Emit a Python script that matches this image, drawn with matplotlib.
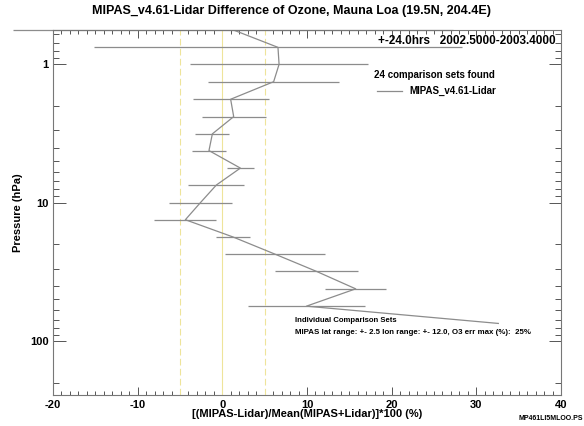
import numpy as np
import matplotlib
matplotlib.use('Agg')
import matplotlib.pyplot as plt
from matplotlib.ticker import LogLocator, FixedLocator, MultipleLocator, NullFormatter

plt.rcParams['font.family'] = ['Liberation Sans', 'DejaVu Sans']
plt.rcParams['font.weight'] = 'bold'
plt.rcParams['axes.unicode_minus'] = False

# MIPAS - Lidar relative difference profile
pressure = [0.563, 0.754, 1.0, 1.335, 1.788, 2.387, 3.18, 4.20, 5.62,
            7.45, 10.0, 13.27, 17.67, 23.5, 31.3, 41.9, 55.9, 74.5]
diff = [1.25, 6.57, 6.7, 6.06, 0.98, 1.34, -1.18, -1.58, 2.13,
        -0.71, -2.6, -4.37, 1.25, 6.2, 11.1, 15.75, 9.93, 32.6]
err = [26.0, 21.7, 10.5, 7.7, 4.5, 3.8, 2.0, 2.0, 1.6,
       3.3, 3.7, 3.65, 1.97, 5.9, 4.9, 3.6, 6.95, 0.0]

fig = plt.figure(figsize=(5.84, 4.26), dpi=100)
ax = fig.add_axes([0.0908, 0.0728, 0.8698, 0.8575])

grey = '#8c8c8c'
yel = '#eee49a'
# reference lines at 0 and +-5 %
ax.axvline(0, color=yel, lw=0.8)
ax.axvline(-5, color=yel, lw=0.8, ls=(0, (6, 3)))
ax.axvline(5, color=yel, lw=0.8, ls=(0, (6, 3)))

ax.errorbar(diff, pressure, xerr=err, fmt='none', ecolor=grey, elinewidth=0.9,
            capsize=0, clip_on=False)
ax.plot(diff, pressure, color=grey, lw=0.9, label='MIPAS_v4.61-Lidar')

ax.set_yscale('log')
ax.set_ylim(245, 0.562)
ax.set_xlim(-20, 40)

ax.xaxis.set_major_locator(MultipleLocator(10))
ax.xaxis.set_minor_locator(MultipleLocator(1))
ax.yaxis.set_major_locator(FixedLocator([1, 10, 100]))
ax.yaxis.set_major_formatter(plt.FuncFormatter(lambda v, p: '%d' % v))
ax.yaxis.set_minor_locator(LogLocator(base=10, subs=np.arange(2, 10)))
ax.yaxis.set_minor_formatter(NullFormatter())

ax.tick_params(which='both', direction='in', top=True, right=True,
               colors='#555555', labelcolor='black', labelsize=8, width=0.7)
ax.tick_params(axis='x', which='major', length=6, pad=3.5)
ax.tick_params(axis='x', which='minor', length=3)
ax.tick_params(axis='y', which='major', length=9, pad=3)
ax.tick_params(axis='y', which='minor', length=4)
for s in ax.spines.values():
    s.set_color('#777777')
    s.set_linewidth(0.8)

ax.set_xlabel('[(MIPAS-Lidar)/Mean(MIPAS+Lidar)]*100 (%)', fontsize=8,
              fontweight='bold', labelpad=-0.5)
ax.set_ylabel('Pressure (hPa)', fontsize=8, fontweight='bold', labelpad=5)

fig.text(0.5, 0.975, 'MIPAS_v4.61-Lidar Difference of Ozone, Mauna Loa (19.5N, 204.4E)',
         ha='center', va='center', fontsize=9, fontweight='bold')
fig.text(556 / 584, 1 - 41 / 426, '+-24.0hrs   2002.5000-2003.4000',
         ha='right', va='center', fontsize=8.5, fontweight='bold')
fig.text(374 / 584, 1 - 75 / 426, '24 comparison sets found',
         ha='left', va='center', fontsize=7, fontweight='bold')
leg = ax.legend(loc='center left', bbox_to_anchor=((373 - 53) / 508, (395 - 91) / 365.3),
                frameon=False, fontsize=7, handlelength=2.6, handletextpad=0.7,
                borderaxespad=0)
for t in leg.get_texts():
    t.set_fontweight('bold')
fig.text(295 / 584, 1 - 321 / 426, 'Individual Comparison Sets',
         ha='left', va='center', fontsize=5.6, fontweight='bold')
fig.text(295 / 584, 1 - 333 / 426,
         'MIPAS lat range: +- 2.5 lon range: +- 12.0, O3 err max (%):  25%',
         ha='left', va='center', fontsize=5.7, fontweight='bold')
fig.text(583 / 584, 1 - 419 / 426, 'MP461LI5MLOO.PS',
         ha='right', va='center', fontsize=5, fontweight='bold')

fig.savefig('out.png', dpi=100)
